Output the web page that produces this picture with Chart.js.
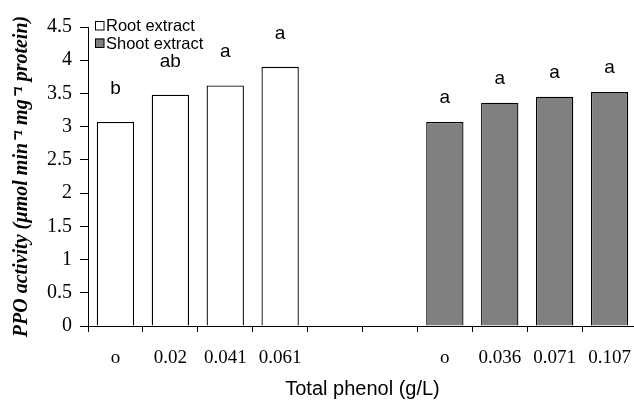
<!DOCTYPE html>
<html>
<head>
<meta charset="utf-8">
<script src="https://cdn.jsdelivr.net/npm/chart.js@4"></script>
<style>
  html, body { margin: 0; padding: 0; background: #fff; overflow: hidden; }
  #wrap { width: 637px; height: 401px; }
</style>
</head>
<body>
<div id="wrap"><canvas id="ppoChart"></canvas></div>
<script>
// Tick labels along the x axis (two empty slots separate the groups)
const doseLabels = ['o', '0.02', '0.041', '0.061', '', '', 'o', '0.036', '0.071', '0.107'];

// PPO activity
const rootValues  = [3.07, 3.48, 3.62, 3.90, null, null, null, null, null, null];
const shootValues = [null, null, null, null, null, null, 3.07, 3.36, 3.45, 3.52];

// Significance letters above each bar
const rootLetters  = ['b', 'ab', 'a', 'a', '', '', '', '', '', ''];
const shootLetters = ['', '', '', '', '', '', 'a', 'a', 'a', 'a'];

const yTicksMax = 4.5;
const yTicksStep = 0.5;

// letters + legend, drawn on top of the bars
const annotate = {
    id: 'annotate',
    afterDatasetsDraw(chart) {
        const ctx = chart.ctx;
        const letterSets = [rootLetters, shootLetters];
        const lift = [28, 19];
        ctx.save();
        ctx.fillStyle = '#000';
        ctx.font = '19px "Liberation Sans", Arial, sans-serif';
        ctx.textAlign = 'center';
        ctx.textBaseline = 'alphabetic';
        chart.data.datasets.forEach((ds, i) => {
            const meta = chart.getDatasetMeta(i);
            meta.data.forEach((bar, j) => {
                const txt = letterSets[i][j];
                if (!txt || ds.data[j] == null) return;
                ctx.fillText(txt, bar.x, bar.y - lift[i]);
            });
        });

        // legend in the top-left corner of the plot
        ctx.font = '16.5px "Liberation Sans", Arial, sans-serif';
        ctx.textAlign = 'left';
        ctx.textBaseline = 'middle';
        chart.data.datasets.forEach((ds, i) => {
            const y = 25.5 + i * 17.5;
            ctx.fillStyle = ds.backgroundColor;
            ctx.fillRect(95, y - 4.5, 9, 9);
            ctx.strokeStyle = '#000';
            ctx.lineWidth = 1;
            ctx.strokeRect(95.5, y - 4, 8.5, 8.5);
            ctx.fillStyle = '#000';
            ctx.fillText(ds.label, 106, y + 1);
        });
        ctx.restore();
    }
};

new Chart(document.getElementById('ppoChart'), {
    type: 'bar',
    data: {
        labels: doseLabels,
        datasets: [
            {
                label: 'Root extract',
                data: rootValues,
                backgroundColor: '#ffffff',
                borderColor: '#000000',
                borderWidth: 1.3
            },
            {
                label: 'Shoot extract',
                data: shootValues,
                backgroundColor: '#808080',
                borderColor: '#000000',
                borderWidth: 1.3
            }
        ]
    },
    options: {
        responsive: true,
        maintainAspectRatio: false,
        animation: false,
        events: [],
        grouped: false,
        categoryPercentage: 1,
        barPercentage: 0.68,
        layout: { padding: { top: 27, right: 0, left: 0, bottom: 0 } },
        plugins: {
            legend: { display: false },
            tooltip: { enabled: false }
        },
        scales: {
            x: {
                grid: {
                    drawOnChartArea: false,
                    color: '#000',
                    tickLength: 6,
                    offset: true
                },
                border: { color: '#000', width: 1 },
                ticks: {
                    color: '#000',
                    padding: 15,
                    maxRotation: 0,
                    autoSkip: false,
                    font: { family: '"Liberation Serif", "Times New Roman", serif', size: 19 }
                },
                title: {
                    display: true,
                    text: 'Total phenol (g/L)',
                    color: '#000',
                    padding: { top: 0, bottom: 0 },
                    font: { family: '"Liberation Sans", Arial, sans-serif', size: 20 }
                },
                afterFit(scale) {
                    scale.height = 75;
                    // labels sit inside their slots, no side padding needed
                    scale.paddingLeft = 0;
                    scale.paddingRight = 0;
                }
            },
            y: {
                min: 0,
                max: yTicksMax,
                grid: {
                    drawOnChartArea: false,
                    color: '#000',
                    tickLength: 8
                },
                border: { color: '#000', width: 1 },
                ticks: {
                    stepSize: yTicksStep,
                    color: '#000',
                    padding: 8,
                    callback: v => String(+v.toFixed(1)),
                    font: { family: '"Liberation Serif", "Times New Roman", serif', size: 20 }
                },
                title: {
                    display: true,
                    text: 'PPO activity (µmol min⁻¹ mg⁻¹ protein)',
                    color: '#000',
                    padding: { top: 10, bottom: 0 },
                    font: { family: '"Liberation Serif", "Times New Roman", serif', size: 20, style: 'italic', weight: 'bold' }
                },
                afterFit(scale) { scale.width = 88; }
            }
        }
    },
    plugins: [annotate]
});
</script>
</body>
</html>
